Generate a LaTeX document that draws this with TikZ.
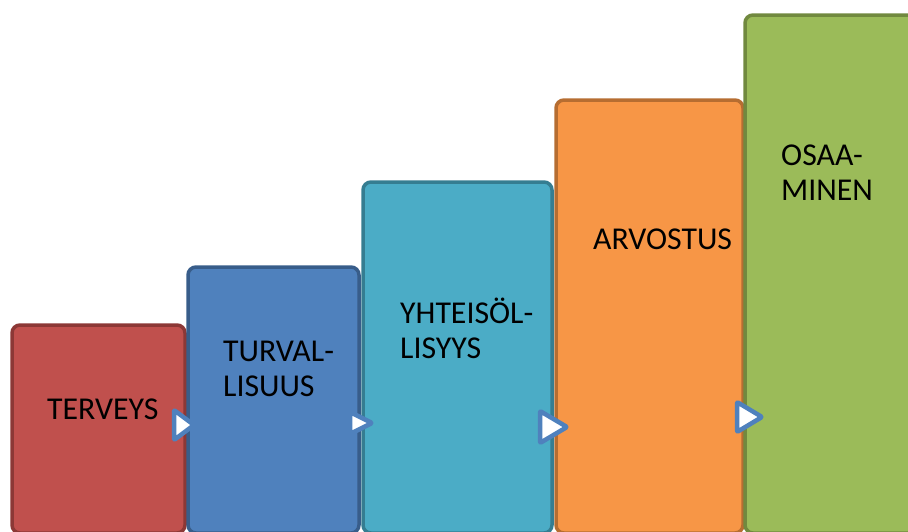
\documentclass[tikz,border=0pt]{standalone}
\usepackage{fontspec}
\setmainfont{Carlito}
\begin{document}
\begin{tikzpicture}[x=1pt,y=-1pt,
  stepbox/.style={rectangle, rounded corners=8pt, line width=3.5pt, outer sep=0pt, inner sep=0pt, anchor=north west},
  lbl/.style={anchor=base west, inner sep=0pt, font=\fontsize{31.8}{35}\selectfont, text=black},
  tri/.style={fill=white, draw=arrowblue, line width=4.5pt, line join=round, rounded corners=1pt}]
\definecolor{redfill}{HTML}{C0504D}\definecolor{redline}{HTML}{8C3836}
\definecolor{bluefill}{HTML}{4F81BD}\definecolor{blueline}{HTML}{385D8A}
\definecolor{tealfill}{HTML}{4BACC6}\definecolor{tealline}{HTML}{357D91}
\definecolor{orangefill}{HTML}{F79646}\definecolor{orangeline}{HTML}{B66D31}
\definecolor{greenfill}{HTML}{9BBB59}\definecolor{greenline}{HTML}{71893F}
\definecolor{arrowblue}{HTML}{4F81BD}
\useasboundingbox (0,0) rectangle (908,531);
\clip (0,0) rectangle (908,531);
\node[stepbox, fill=redfill, draw=redline, minimum width=173pt, minimum height=208pt] (b1) at (12,325) {};
\node[stepbox, fill=bluefill, draw=blueline, minimum width=171pt, minimum height=266pt] (b2) at (188,267) {};
\node[stepbox, fill=tealfill, draw=tealline, minimum width=189pt, minimum height=351pt] (b3) at (363,182) {};
\node[stepbox, fill=orangefill, draw=orangeline, minimum width=187pt, minimum height=433pt] (b4) at (556,100) {};
\node[stepbox, fill=greenfill, draw=greenline, minimum width=200pt, minimum height=518pt] (b5) at (745,15) {};
\node[lbl] (t1) at (47,419) {TERVEYS};
\node[lbl] (t2a) at (223,361) {TURVAL-};
\node[lbl] (t2b) at (223,396) {LISUUS};
\node[lbl] (t3a) at (400,323) {YHTEISÖL-};
\node[lbl] (t3b) at (400,358) {LISYYS};
\node[lbl] (t4) at (593,249) {ARVOSTUS};
\node[lbl] (t5a) at (781,165) {OSAA-};
\node[lbl] (t5b) at (781,200) {MINEN};
\draw[tri] (174,410) -- (194,425) -- (174,440) -- cycle;
\draw[tri] (350,412) -- (372,423) -- (350,434) -- cycle;
\draw[tri] (540,411) -- (567,427) -- (540,443) -- cycle;
\draw[tri] (737,402) -- (762,417) -- (737,432) -- cycle;
\end{tikzpicture}
\end{document}
